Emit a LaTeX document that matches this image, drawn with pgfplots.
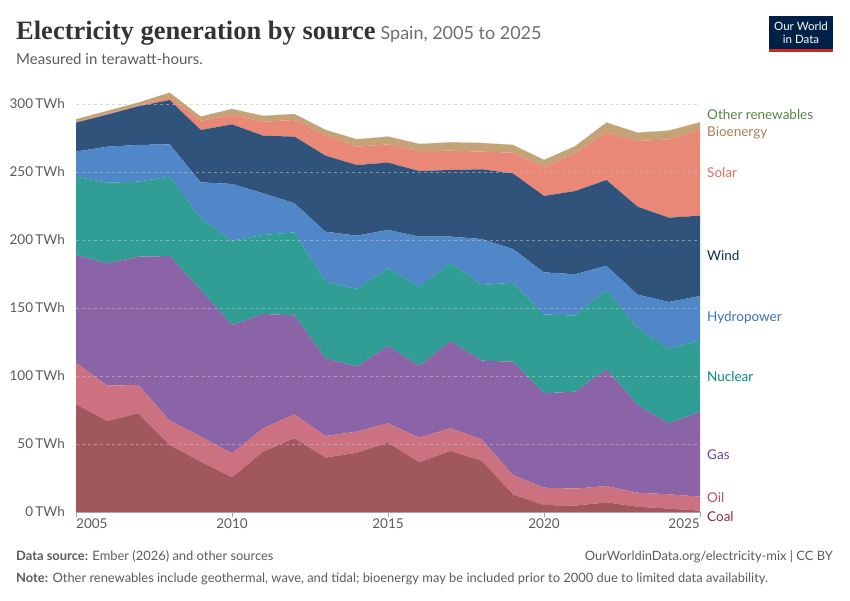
\documentclass[border=0pt]{standalone}
\usepackage{pgfplots}
\pgfplotsset{compat=1.18}
\usepackage{pgfplotstable}
\usepackage{fontspec}
\setmainfont{Lato}
\newfontfamily\titlefont{Liberation Serif}
\definecolor{cCoal}{HTML}{A0585E}
\definecolor{cOil}{HTML}{CC717F}
\definecolor{cGas}{HTML}{8A64A6}
\definecolor{cNuc}{HTML}{319E96}
\definecolor{cHyd}{HTML}{5087C8}
\definecolor{cWind}{HTML}{30537B}
\definecolor{cSolar}{HTML}{EA8877}
\definecolor{cBio}{HTML}{C6A377}
\definecolor{cOther}{HTML}{73A45F}
\definecolor{lCoal}{HTML}{8C3237}
\definecolor{lOil}{HTML}{BE5064}
\definecolor{lGas}{HTML}{6E469B}
\definecolor{lNuc}{HTML}{008780}
\definecolor{lHyd}{HTML}{3E6EBE}
\definecolor{lWind}{HTML}{0B2A4F}
\definecolor{lSolar}{HTML}{E26E5F}
\definecolor{lBio}{HTML}{A68054}
\definecolor{lOther}{HTML}{558246}
\definecolor{txtgray}{HTML}{5B5B5B}
\definecolor{owidblue}{HTML}{002147}
\definecolor{owidred}{HTML}{CE261E}
\pgfplotstableread{
year coal oil gas nuclear hydro wind solar bio other
2005 79.2 30.6 79.2 57.6 18.4 21.3 0.2 2.2 0.05
2006 66.9 26.0 89.9 59.4 26.4 23.6 0.4 2.3 0.05
2007 72.5 20.9 94.3 55.2 27.0 28.4 0.7 2.0 0.05
2008 49.3 17.9 121.0 58.4 23.7 32.6 2.0 3.4 0.05
2009 37.0 18.4 107.8 52.7 26.5 38.5 6.8 3.0 0.05
2010 25.5 17.6 94.4 62.0 41.7 43.8 6.9 4.4 0.05
2011 44.4 17.1 84.1 58.1 30.6 42.4 10.3 4.2 0.05
2012 54.2 17.6 72.8 61.0 21.4 49.0 12.2 4.4 0.05
2013 40.0 15.9 57.1 56.4 36.7 55.9 14.7 4.2 0.05
2014 43.6 15.5 47.8 57.1 39.2 51.9 13.5 5.4 0.05
2015 51.0 14.2 56.9 57.1 28.2 49.5 13.4 5.7 0.05
2016 36.5 18.2 52.7 58.3 36.8 48.2 14.7 5.2 0.05
2017 44.9 16.6 64.2 57.6 19.2 49.0 14.2 6.1 0.05
2018 37.7 15.7 57.9 55.6 33.8 51.3 13.0 6.3 0.05
2019 13.0 14.2 83.3 58.1 24.8 55.6 15.2 5.7 0.05
2020 5.1 12.8 69.4 58.0 30.9 56.2 21.0 5.4 0.05
2021 4.7 12.5 71.3 55.9 30.4 61.2 27.7 5.3 0.05
2022 7.1 12.0 85.8 58.3 17.9 63.0 34.8 7.4 0.05
2023 3.9 10.3 64.5 56.8 24.3 64.7 48.3 6.1 0.05
2024 2.5 10.5 52.2 54.7 34.5 62.0 57.6 6.4 0.05
2025 1.0 10.3 62.5 52.7 32.3 59.1 63.0 5.6 0.05
}\datatable
\begin{document}
\begin{tikzpicture}
\useasboundingbox (0pt,0pt) rectangle (850pt,600pt);
% title block
\node[anchor=base west, inner sep=0pt] at (16pt,560pt)
  {{\titlefont\bfseries\fontsize{26.5}{30}\selectfont\color[HTML]{333333}Electricity generation by source}\hspace{5pt}{\fontsize{18}{21}\selectfont\color[HTML]{6E6E6E}Spain, 2005 to 2025}};
\node[anchor=base west, inner sep=0pt] at (16pt,535pt)
  {\fontsize{15}{18}\selectfont\color[HTML]{5B5B5B}Measured in terawatt-hours.};
% logo
\fill[owidblue] (769pt,548pt) rectangle (833pt,584pt);
\fill[owidred] (769pt,548pt) rectangle (833pt,551pt);
\node[text=white, align=center, inner sep=0pt, font=\fontsize{11.5}{12.5}\selectfont] at (801pt,567pt) {Our World\\in Data};
\begin{axis}[
  at={(76pt,88pt)}, anchor=south west,
  scale only axis, width=624pt, height=421.6pt,
  xmin=2005, xmax=2025, ymin=0, ymax=310,
  stack plots=y,
  axis on top,
  clip=false,
  axis x line*=bottom,
  axis y line*=left,
  y axis line style={draw=none},
  x axis line style={color=black!35, line width=0.6pt},
  xtick={2005,2010,2015,2020,2025},
  xticklabels={},
  xtick style={draw=black!35, line width=0.6pt},
  major tick length=5pt,
  tick align=outside,
  ytick={0,50,100,150,200,250,300},
  ytick style={draw=none},
  ymajorgrids,
  grid style={dashed, black!25, line width=0.5pt, opacity=0.6},
  /pgf/number format/assume math mode=true,
  yticklabel={\pgfmathprintnumber{\tick}\,TWh},
  yticklabel style={font=\fontsize{13.5}{16}\selectfont, text=txtgray, anchor=east, inner sep=0pt, xshift=-6pt},
]
\addplot[fill=cCoal, draw=none] table[x=year, y=coal] {\datatable} \closedcycle;
\addplot[fill=cOil, draw=none] table[x=year, y=oil] {\datatable} \closedcycle;
\addplot[fill=cGas, draw=none] table[x=year, y=gas] {\datatable} \closedcycle;
\addplot[fill=cNuc, draw=none] table[x=year, y=nuclear] {\datatable} \closedcycle;
\addplot[fill=cHyd, draw=none] table[x=year, y=hydro] {\datatable} \closedcycle;
\addplot[fill=cWind, draw=none] table[x=year, y=wind] {\datatable} \closedcycle;
\addplot[fill=cSolar, draw=none] table[x=year, y=solar] {\datatable} \closedcycle;
\addplot[fill=cBio, draw=none] table[x=year, y=bio] {\datatable} \closedcycle;
\addplot[fill=cOther, draw=none] table[x=year, y=other] {\datatable} \closedcycle;
\end{axis}
% x tick labels
\begin{scope}[every node/.style={inner sep=0pt, font=\fontsize{13.5}{16}\selectfont, text=txtgray}]
\node[anchor=north west] at (76pt,81pt) {2005};
\node[anchor=north] at (232pt,81pt) {2010};
\node[anchor=north] at (388pt,81pt) {2015};
\node[anchor=north] at (544pt,81pt) {2020};
\node[anchor=north east] at (700pt,81pt) {2025};
\end{scope}
% right labels
\begin{scope}[every node/.style={anchor=west, inner sep=0pt, font=\fontsize{13.5}{16}\selectfont}]
\node[text=lOther] at (707pt,485pt) {Other renewables};
\node[text=lBio] at (707pt,467pt) {Bioenergy};
\node[text=lSolar] at (707pt,427pt) {Solar};
\node[text=lWind] at (707pt,344pt) {Wind};
\node[text=lHyd] at (707pt,282pt) {Hydropower};
\node[text=lNuc] at (707pt,223pt) {Nuclear};
\node[text=lGas] at (707pt,145pt) {Gas};
\node[text=lOil] at (707pt,102pt) {Oil};
\node[text=lCoal] at (707pt,83pt) {Coal};
\end{scope}
% footer
\node[anchor=base west, inner sep=0pt, font=\fontsize{12.9}{15}\selectfont, text=txtgray] at (16pt,40pt) {\textbf{Data source:} Ember (2026) and other sources};
\node[anchor=base east, inner sep=0pt, font=\fontsize{12.9}{15}\selectfont, text=txtgray] at (833pt,40pt) {OurWorldinData.org/electricity-mix | CC BY};
\node[anchor=base west, inner sep=0pt, font=\fontsize{12.9}{15}\selectfont, text=txtgray] at (16pt,18pt) {\textbf{Note:} Other renewables include geothermal, wave, and tidal; bioenergy may be included prior to 2000 due to limited data availability.};
\end{tikzpicture}
\end{document}
